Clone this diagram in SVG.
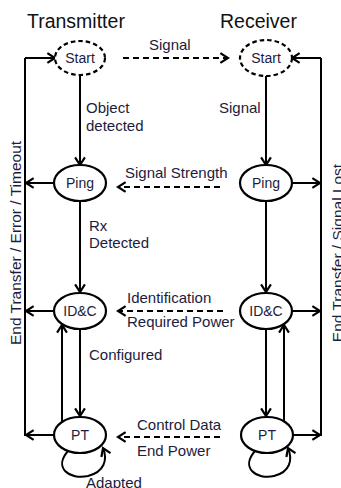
<svg xmlns="http://www.w3.org/2000/svg" width="341" height="488" viewBox="0 0 341 488">
<style>
  .node { fill: #fff; stroke: #000; stroke-width: 2.2; }
  .start { stroke-dasharray: 4.5 3; }
  .nlabel { font-family: "Liberation Sans", Arial, sans-serif; font-size: 14px; fill: #1c1c3c; text-anchor: middle; }
  .title { font-family: "Liberation Sans", Arial, sans-serif; font-size: 19.5px; fill: #111; }
  .lbl { font-family: "Liberation Sans", Arial, sans-serif; font-size: 15px; fill: #1c1c3c; }
  .side { font-family: "Liberation Sans", Arial, sans-serif; font-size: 15.5px; fill: #1c1c3c; text-anchor: middle; }
  .c { fill: none; stroke: #000; stroke-width: 2; marker-end: url(#ah); }
  .cn { fill: none; stroke: #000; stroke-width: 2; }
  .d { fill: none; stroke: #000; stroke-width: 2; stroke-dasharray: 6 4; marker-end: url(#ah); }
</style>
<defs>
  <marker id="ah" markerUnits="userSpaceOnUse" markerWidth="12" markerHeight="12" viewBox="-1 -1 10 11" refX="7" refY="4.5" orient="auto">
    <path d="M0,0 L7,4.5 L0,9" fill="none" stroke="#000" stroke-width="2"/>
  </marker>
</defs>
<rect width="341" height="488" fill="#fff"/>

<text class="title" x="27" y="28">Transmitter</text>
<text class="title" x="220" y="28">Receiver</text>

<g id="connectors">
  <!-- TX vertical -->
  <path class="c" d="M80,75 L80,165"/>
  <path class="c" d="M80,201 L80,292"/>
  <path class="c" d="M80,329 L80,416"/>
  <path class="c" d="M62,422 L62,325"/>
  <path class="c" d="M69,450 C52,468 70,480 88,476 C104,472 108,460 103,448"/>
  <!-- RX vertical -->
  <path class="c" d="M266,75 L266,165"/>
  <path class="c" d="M266,201 L266,292"/>
  <path class="c" d="M266,329 L266,416"/>
  <path class="c" d="M284,422 L284,325"/>
  <path class="c" d="M256,450 C239,468 257,480 274,476 C290,472 293,460 288,448"/>
  <!-- left frame -->
  <path class="cn" d="M54,435 L25,435 L25,58"/>
  <path class="c" d="M25,58 L55,58"/>
  <path class="c" d="M54,183 L26,183"/>
  <path class="c" d="M54,311 L26,311"/>
  <path class="c" d="M54,435 L26,435"/>
  <!-- right frame -->
  <path class="cn" d="M293,435 L321,435 L321,58"/>
  <path class="c" d="M321,58 L292,58"/>
  <path class="c" d="M292,183 L320,183"/>
  <path class="c" d="M292,311 L320,311"/>
  <path class="c" d="M293,435 L320,435"/>
  <!-- dashed messages -->
  <path class="d" d="M123,58 L228,58"/>
  <path class="d" d="M220,187 L118,187"/>
  <path class="d" d="M223,311 L118,311"/>
  <path class="d" d="M220,437 L118,437"/>

  <text class="lbl" x="149" y="50">Signal</text>
  <text class="lbl" x="125" y="178">Signal Strength</text>
  <text class="lbl" x="127" y="303">Identification</text>
  <text class="lbl" x="127" y="327">Required Power</text>
  <text class="lbl" x="137" y="430">Control Data</text>
  <text class="lbl" x="137" y="456">End Power</text>
  <text class="lbl" x="86" y="113">Object</text>
  <text class="lbl" x="86" y="131">detected</text>
  <text class="lbl" x="219" y="113">Signal</text>
  <text class="lbl" x="89" y="231">Rx</text>
  <text class="lbl" x="89" y="248">Detected</text>
  <text class="lbl" x="89" y="360">Configured</text>
  <text class="lbl" x="86" y="488">Adapted</text>
  <text class="side" transform="translate(21,243) rotate(-90)">End Transfer / Error / Timeout</text>
  <text class="side" transform="translate(343,253) rotate(-90)">End Transfer / Signal Lost</text>
</g>

<g id="tx-start"><ellipse class="node start" cx="80" cy="58" rx="25" ry="17"/><text class="nlabel" x="80" y="63">Start</text></g>
<g id="tx-ping"><ellipse class="node" cx="80" cy="183" rx="26" ry="18"/><text class="nlabel" x="80" y="188">Ping</text></g>
<g id="tx-idc"><ellipse class="node" cx="80" cy="311" rx="26" ry="18"/><text class="nlabel" x="80" y="316">ID&amp;C</text></g>
<g id="tx-pt"><ellipse class="node" cx="80" cy="435" rx="26" ry="18"/><text class="nlabel" x="80" y="440">PT</text></g>
<g id="rx-start"><ellipse class="node start" cx="266" cy="58" rx="26" ry="18"/><text class="nlabel" x="266" y="63">Start</text></g>
<g id="rx-ping"><ellipse class="node" cx="266" cy="183" rx="26" ry="18"/><text class="nlabel" x="266" y="188">Ping</text></g>
<g id="rx-idc"><ellipse class="node" cx="266" cy="311" rx="26" ry="18"/><text class="nlabel" x="266" y="316">ID&amp;C</text></g>
<g id="rx-pt"><ellipse class="node" cx="267" cy="435" rx="26" ry="18"/><text class="nlabel" x="267" y="440">PT</text></g>
</svg>
